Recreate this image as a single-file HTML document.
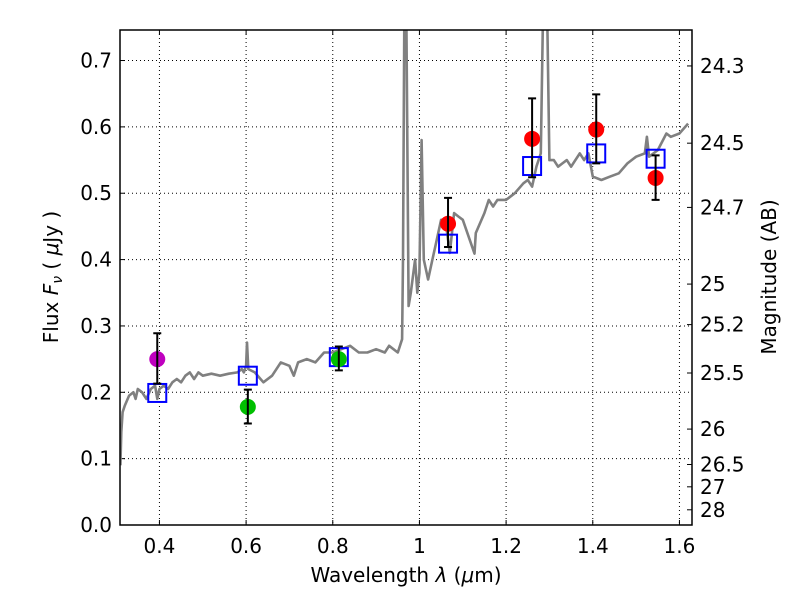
<!DOCTYPE html>
<html><head><meta charset="utf-8"><style>
body{margin:0;background:#fff}
svg text{font-family:"DejaVu Sans","Liberation Sans",sans-serif;font-size:20px;fill:#000}
</style></head><body>
<svg id="c" width="800" height="600" xmlns="http://www.w3.org/2000/svg"></svg>
<script>
const specX=[0.31,0.312,0.315,0.32,0.33,0.34,0.345,0.35,0.36,0.37,0.38,0.39,0.395,0.40,0.41,0.42,0.43,0.44,0.45,0.46,0.47,0.48,0.49,0.50,0.52,0.54,0.56,0.58,0.59,0.595,0.60,0.602,0.605,0.62,0.64,0.66,0.68,0.70,0.71,0.72,0.74,0.76,0.78,0.80,0.82,0.84,0.86,0.88,0.90,0.92,0.93,0.95,0.96,0.962,0.965,0.97,0.975,0.98,0.99,0.995,1.0,1.005,1.01,1.02,1.03,1.04,1.05,1.06,1.07,1.08,1.09,1.10,1.127,1.13,1.15,1.16,1.17,1.18,1.20,1.22,1.24,1.25,1.26,1.27,1.28,1.285,1.295,1.30,1.31,1.32,1.33,1.34,1.35,1.36,1.37,1.38,1.39,1.40,1.42,1.44,1.46,1.48,1.50,1.52,1.525,1.53,1.55,1.57,1.58,1.60,1.62];
const specY=[0.09,0.14,0.17,0.18,0.195,0.2,0.19,0.205,0.2,0.19,0.205,0.21,0.19,0.205,0.21,0.205,0.215,0.22,0.215,0.225,0.23,0.22,0.23,0.225,0.228,0.225,0.228,0.23,0.235,0.23,0.24,0.275,0.235,0.23,0.215,0.225,0.245,0.24,0.225,0.245,0.25,0.245,0.26,0.26,0.265,0.27,0.26,0.26,0.265,0.26,0.27,0.26,0.28,0.4,0.76,0.76,0.33,0.35,0.4,0.35,0.38,0.58,0.4,0.37,0.4,0.43,0.46,0.46,0.41,0.47,0.465,0.46,0.409,0.44,0.47,0.49,0.48,0.49,0.49,0.5,0.515,0.52,0.51,0.54,0.56,0.76,0.76,0.55,0.55,0.54,0.545,0.55,0.54,0.55,0.56,0.55,0.56,0.525,0.52,0.525,0.53,0.545,0.555,0.56,0.585,0.555,0.565,0.59,0.585,0.59,0.605];
const obsX=[0.395,0.604,0.814,1.066,1.26,1.408,1.545];
const obsY=[0.25,0.178,0.25,0.454,0.582,0.596,0.523];
const errLo=[0.213,0.153,0.233,0.419,0.524,0.545,0.49];
const errHi=[0.289,0.204,0.269,0.493,0.643,0.649,0.557];
const obsColor=["#bf00bf","#00bf00","#00bf00","#ff0000","#ff0000","#ff0000","#ff0000"];
const modelY=[0.199,0.225,0.253,0.424,0.541,0.56,0.552];
const xTicks=[0.4,0.6,0.8,1.0,1.2,1.4,1.6];
const xTickLabels=["0.4","0.6","0.8","1","1.2","1.4","1.6"];
const yTicks=[0,0.1,0.2,0.3,0.4,0.5,0.6,0.7];
const magTicks=[24.3,24.5,24.7,25,25.2,25.5,26,26.5,27,28];

const L=120,R=692,T=30,B=525,XMIN=0.309,XMAX=1.629,YMIN=0,YMAX=0.746;
const sx=v=>L+(v-XMIN)/(XMAX-XMIN)*(R-L);
const sy=v=>B-(v-YMIN)/(YMAX-YMIN)*(B-T);
const svg=document.getElementById('c');
const NS="http://www.w3.org/2000/svg";
function mk(t,a,p){const e=document.createElementNS(NS,t);for(const k in a)e.setAttribute(k,a[k]);(p||svg).appendChild(e);return e;}

const defs=mk('defs',{});const cp=mk('clipPath',{id:'clip'},defs);mk('rect',{x:L,y:T,width:R-L,height:B-T},cp);

xTicks.forEach((v,i)=>{
 const g=mk('line',{x1:sx(v),x2:sx(v),y1:T,y2:B,stroke:'#000','stroke-width':1,'stroke-dasharray':'1,3'});
 
 
 mk('line',{x1:sx(v),x2:sx(v),y1:B,y2:B-5,stroke:'#000'});
 mk('line',{x1:sx(v),x2:sx(v),y1:T,y2:T+5,stroke:'#000'});
 const t=mk('text',{x:sx(v),y:B+28,'text-anchor':'middle'});t.textContent=xTickLabels[i];
 
 
});
yTicks.forEach(v=>{
 const g=mk('line',{x1:L,x2:R,y1:sy(v),y2:sy(v),stroke:'#000','stroke-width':1,'stroke-dasharray':'1,3'});
 
 
 mk('line',{x1:L,x2:L+5,y1:sy(v),y2:sy(v),stroke:'#000'});
 const t=mk('text',{x:L-8,y:sy(v)+7,'text-anchor':'end'});t.textContent=v.toFixed(1);
 
 
});
magTicks.forEach(m=>{
 const f=Math.pow(10,(23.9-m)/2.5);const y=sy(f);
 mk('line',{x1:R,x2:R-5,y1:y,y2:y,stroke:'#000'});
 const t=mk('text',{x:R+8,y:y+7});t.textContent=String(m);
 
 
});

let d='';specX.forEach((v,i)=>{d+=(i?'L':'M')+sx(v).toFixed(1)+','+sy(specY[i]).toFixed(1);});
const sp=mk('path',{d:d,fill:'none',stroke:'#808080','stroke-width':2.6,'clip-path':'url(#clip)','stroke-linejoin':'round'});



obsX.forEach((v,i)=>{
 const r=mk('rect',{x:sx(v)-9,y:sy(modelY[i])-9,width:18,height:18,fill:'none',stroke:'#0000ff','stroke-width':2});
 
 
});
obsX.forEach((v,i)=>{
 const c=mk('circle',{cx:sx(v),cy:sy(obsY[i]),r:8,fill:obsColor[i]});
 
 
});
obsX.forEach((v,i)=>{
 const x=sx(v);
 const e=mk('path',{d:`M${x},${sy(errLo[i])}V${sy(errHi[i])}M${x-4},${sy(errLo[i])}H${x+4}M${x-4},${sy(errHi[i])}H${x+4}`,stroke:'#000','stroke-width':2,fill:'none'});
 
 
});

const fr=mk('rect',{x:L,y:T,width:R-L,height:B-T,fill:'none',stroke:'#000','stroke-width':1.5});



const xl=mk('text',{x:406,y:582,'text-anchor':'middle'});xl.innerHTML='Wavelength  <tspan font-style="italic">λ</tspan> (<tspan font-style="italic">μ</tspan>m)';


const yl=mk('text',{x:0,y:0,'text-anchor':'middle',transform:'translate(58,277) rotate(-90)'});yl.innerHTML='Flux  <tspan font-style="italic">F</tspan><tspan font-style="italic" font-size="14" dy="4">ν</tspan><tspan dy="-4">  ( </tspan><tspan font-style="italic">μ</tspan>Jy )';


const rl=mk('text',{x:0,y:0,'text-anchor':'middle',transform:'translate(776,277) rotate(-90)'});rl.textContent='Magnitude (AB)';


</script>
</body></html>
